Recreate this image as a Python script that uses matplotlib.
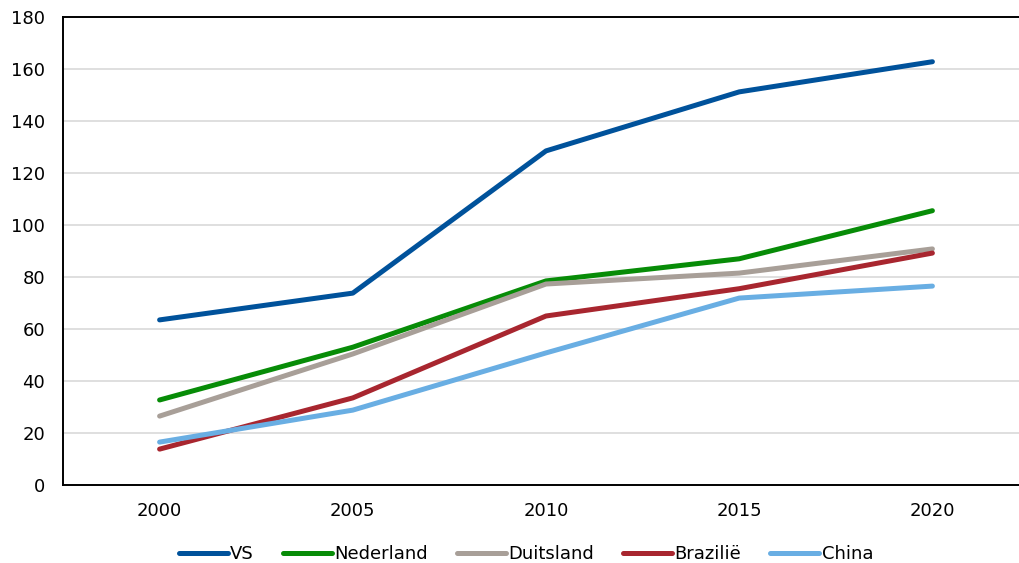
import matplotlib
matplotlib.use("Agg")
import matplotlib.pyplot as plt

years = ["2000", "2005", "2010", "2015", "2020"]

vs = [63.5, 73.8, 128.5, 151.2, 162.8]
nederland = [32.7, 53.0, 78.5, 87.0, 105.5]
duitsland = [26.5, 50.4, 77.3, 81.5, 90.8]
brazilie = [13.8, 33.5, 65.0, 75.5, 89.2]
china = [16.5, 28.8, 50.8, 71.9, 76.5]

labels = ["VS", "Nederland", "Duitsland", "Brazilië", "China"]
colors = ["#00529B", "#078C07", "#A89F98", "#A8262F", "#69AEE3"]

plt.rcParams['font.family'] = ['DejaVu Sans']

fig = plt.figure(figsize=(10.19, 5.63), dpi=100)
# axes runs a bit past the right edge so no frame shows there
ax = fig.add_axes([63 / 1019, 78 / 563, 966 / 1019, 468 / 563])

x = list(range(len(years)))
for series, lab, col in zip([vs, nederland, duitsland, brazilie, china], labels, colors):
    ax.plot(x, series, color=col, lw=3.6, label=lab, solid_capstyle='round')

ax.set_xlim(-0.5, 4.5)
ax.set_ylim(0, 180)
ax.set_yticks(range(0, 181, 20))
ax.set_xticks(x)
ax.set_xticklabels(years)
ax.tick_params(axis='both', length=0, labelsize=13, colors='black')
ax.tick_params(axis='x', pad=12)
ax.tick_params(axis='y', pad=13)

ax.yaxis.grid(True, color='#D9D9D9', lw=1.2)
ax.set_axisbelow(True)
ax.spines['right'].set_visible(False)
for s in ['left', 'bottom', 'top']:
    ax.spines[s].set_linewidth(1.4)
    ax.spines[s].set_color('black')

fig.legend(loc='center', bbox_to_anchor=(526 / 1019, 1 - 554 / 563), ncol=5,
           frameon=False, fontsize=13, handlelength=2.7, handletextpad=0.15,
           columnspacing=1.6)

fig.savefig("out.png", dpi=100)
